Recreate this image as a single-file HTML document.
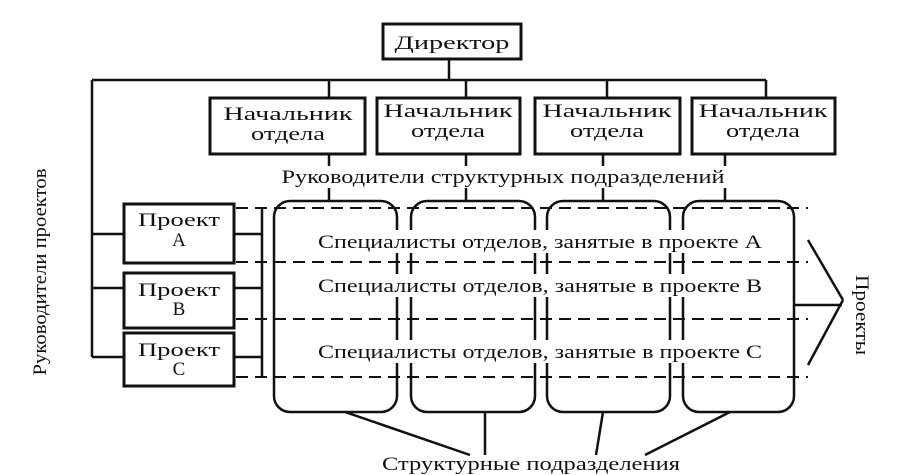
<!DOCTYPE html>
<html><head><meta charset="utf-8"><style>
html,body{margin:0;padding:0;background:#fff;}
svg{display:block;}
text{font-family:"Liberation Serif",serif;font-size:19px;fill:#111;}
</style></head><body>
<svg width="911" height="475" viewBox="0 0 911 475" xmlns="http://www.w3.org/2000/svg">
<g stroke="#111" fill="none" stroke-width="2.5">
<rect x="383" y="24" width="138" height="35" stroke-width="3"/>
<line x1="449" y1="59" x2="449" y2="80"/>
<line x1="92" y1="80" x2="766" y2="80"/>
<line x1="329" y1="80" x2="329" y2="98"/>
<line x1="466" y1="80" x2="466" y2="98"/>
<line x1="607" y1="80" x2="607" y2="98"/>
<line x1="766" y1="80" x2="766" y2="98"/>
<rect x="210" y="98" width="155" height="56" stroke-width="3"/>
<rect x="377" y="98" width="143" height="56" stroke-width="3"/>
<rect x="535" y="98" width="145" height="56" stroke-width="3"/>
<rect x="692" y="98" width="143" height="56" stroke-width="3"/>
<line x1="329" y1="154" x2="329" y2="167"/><line x1="466" y1="154" x2="466" y2="167"/>
<line x1="603" y1="154" x2="603" y2="167"/><line x1="725" y1="154" x2="725" y2="167"/>
<line x1="329" y1="188" x2="329" y2="201"/><line x1="466" y1="188" x2="466" y2="201"/>
<line x1="603" y1="188" x2="603" y2="201"/><line x1="725" y1="188" x2="725" y2="201"/>
<line x1="92" y1="80" x2="92" y2="357"/>
<rect x="124" y="204" width="110" height="59" stroke-width="3"/>
<rect x="124" y="273" width="110" height="55" stroke-width="3"/>
<rect x="124" y="333" width="110" height="53" stroke-width="3"/>
<line x1="92" y1="234" x2="124" y2="234"/><line x1="92" y1="288" x2="124" y2="288"/><line x1="92" y1="357" x2="124" y2="357"/>
<line x1="234" y1="234" x2="262" y2="234"/><line x1="234" y1="288" x2="262" y2="288"/><line x1="234" y1="357" x2="262" y2="357"/>
<line x1="262" y1="208" x2="262" y2="377"/>
<rect x="274" y="201" width="123" height="211" rx="16"/>
<rect x="411" y="201" width="124" height="211" rx="16"/>
<rect x="547" y="201" width="123" height="211" rx="16"/>
<rect x="683" y="201" width="111" height="211" rx="16"/>
<g stroke-dasharray="12,7" stroke-width="2">
<line x1="236" y1="208" x2="808" y2="208"/>
<line x1="236" y1="262" x2="808" y2="262"/>
<line x1="236" y1="319" x2="808" y2="319"/>
<line x1="236" y1="377" x2="808" y2="377"/>
</g>
<line x1="794" y1="305" x2="842" y2="305"/>
<line x1="808" y1="240" x2="843" y2="300"/>
<line x1="843" y1="300" x2="808" y2="365"/>
<line x1="345" y1="412" x2="470" y2="455"/>
<line x1="485" y1="412" x2="485" y2="455"/>
<line x1="603" y1="412" x2="596" y2="455"/>
<line x1="730" y1="412" x2="645" y2="455"/>
</g>
<g fill="#fff" stroke="none">
<rect x="278" y="166" width="452" height="21"/>
<rect x="314" y="230" width="452" height="23"/>
<rect x="314" y="274" width="452" height="23"/>
<rect x="314" y="340" width="452" height="23"/>
</g>
<g text-anchor="middle">
<text x="452" y="49" textLength="115" lengthAdjust="spacingAndGlyphs">Директор</text>
<text x="288" y="120" textLength="129" lengthAdjust="spacingAndGlyphs">Начальник</text><text x="288" y="140" textLength="74" lengthAdjust="spacingAndGlyphs">отдела</text>
<text x="448" y="117" textLength="129" lengthAdjust="spacingAndGlyphs">Начальник</text><text x="448" y="137" textLength="74" lengthAdjust="spacingAndGlyphs">отдела</text>
<text x="607" y="117" textLength="129" lengthAdjust="spacingAndGlyphs">Начальник</text><text x="607" y="137" textLength="74" lengthAdjust="spacingAndGlyphs">отдела</text>
<text x="763" y="117" textLength="129" lengthAdjust="spacingAndGlyphs">Начальник</text><text x="763" y="137" textLength="74" lengthAdjust="spacingAndGlyphs">отдела</text>
<text x="503" y="183" textLength="443" lengthAdjust="spacingAndGlyphs">Руководители структурных подразделений</text>
<text x="179" y="226" textLength="82" lengthAdjust="spacingAndGlyphs">Проект</text><text x="179" y="246">А</text>
<text x="179" y="296" textLength="82" lengthAdjust="spacingAndGlyphs">Проект</text><text x="179" y="315">В</text>
<text x="179" y="356" textLength="82" lengthAdjust="spacingAndGlyphs">Проект</text><text x="179" y="375">С</text>
<text x="540" y="248" textLength="444" lengthAdjust="spacingAndGlyphs">Специалисты отделов, занятые в проекте А</text>
<text x="540" y="292" textLength="444" lengthAdjust="spacingAndGlyphs">Специалисты отделов, занятые в проекте В</text>
<text x="540" y="358" textLength="444" lengthAdjust="spacingAndGlyphs">Специалисты отделов, занятые в проекте С</text>
<text x="531" y="470" textLength="298" lengthAdjust="spacingAndGlyphs">Структурные подразделения</text>
<text transform="translate(46,272) rotate(-90)" textLength="207" lengthAdjust="spacingAndGlyphs">Руководители проектов</text>
<text transform="translate(856,315) rotate(90)" textLength="80" lengthAdjust="spacingAndGlyphs">Проекты</text>
</g>
</svg>
</body></html>
